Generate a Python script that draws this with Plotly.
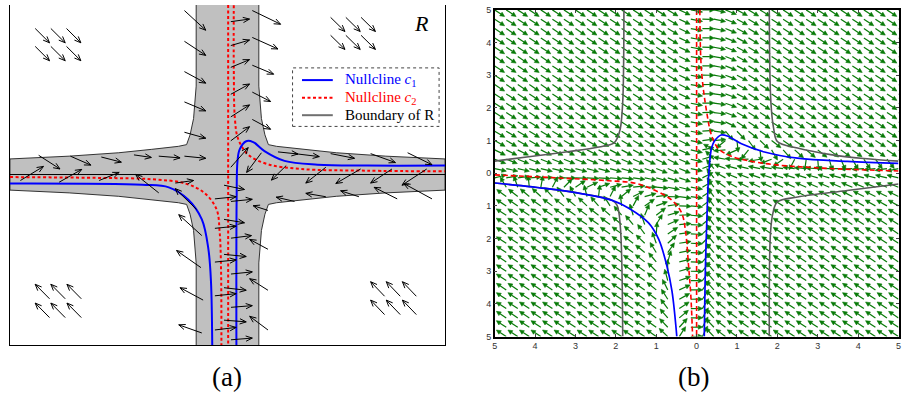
import numpy as np
import plotly.graph_objects as go

W, H = 902, 403

# ---------------------------------------------------------------------------
# Panel (a): schematic picture of the region R
# ---------------------------------------------------------------------------
# upper-left corner of the grey cross (mirrored to obtain the other corners)
r_corner_x = [-0.72, -0.72, -0.78, -0.86, -0.94, -1.13, -1.74, -2.50, -3.64, -5.00]
r_corner_y = [4.30, 2.07, 1.31, 0.93, 0.70, 0.66, 0.59, 0.51, 0.43, 0.365]

# nullcline c1 (two branches)
a_c1_left_x = [-5.0, -1.96, -1.35, -0.90, -0.59, -0.44, -0.38, -0.35]
a_c1_left_y = [-0.21, -0.24, -0.30, -0.59, -1.05, -1.74, -2.50, -4.10]
a_c1_right_x = [0.205, 0.21, 0.23, 0.28, 0.43, 0.59, 0.85, 1.31, 2.07, 3.21, 5.0]
a_c1_right_y = [-4.10, -0.59, 0.32, 0.59, 0.78, 0.76, 0.55, 0.32, 0.23, 0.21, 0.21]
# nullcline c2 (axis x = 0 plus two curved branches)
a_c2_axis_x = [0.015, 0.015]
a_c2_axis_y = [4.10, -4.10]
a_c2_upper_x = [0.145, 0.145, 0.17, 0.24, 0.47, 0.93, 1.69, 3.21, 5.0]
a_c2_upper_y = [4.10, 2.45, 1.31, 0.85, 0.47, 0.24, 0.13, 0.09, 0.075]
a_c2_lower_x = [-5.0, -2.88, -1.74, -0.97, -0.52, -0.25, -0.18, -0.15, -0.14]
a_c2_lower_y = [-0.06, -0.08, -0.11, -0.21, -0.44, -0.82, -1.35, -2.12, -4.10]

# sketched direction arrows: tail (x, y) and vector (u, v)
a_arrow_x = [
    -4.42, -4.06, -3.70, -4.42, -4.06, -3.70,          # upper-left corner
    2.37, 2.72, 3.07, 2.37, 2.72, 3.07,                # upper-right corner
    -4.09, -3.73, -3.36, -4.09, -3.73, -3.36,          # lower-left corner
    3.61, 3.97, 4.34, 3.61, 3.97, 4.34,                # lower-right corner
    -0.99, -0.99, -0.99, -0.99, -0.99,                 # upper arm, left
    0.076, 0.076, 0.076, 0.076, 0.076, 0.076, 0.076,   # upper arm, inside
    0.57, 0.57, 0.57, 0.57, 0.57,                      # upper arm, right
    -4.34, -3.61, -2.90, -2.15, -1.58, -0.99,          # left arm, top
    -4.76, -3.87, -2.95, -1.20,                        # left arm, middle
    -1.58, -0.71,                                      # left arm, bottom
    -0.59, -0.61, -0.56, -0.59,                        # lower arm, left
    -0.08, -0.29, 0.08, -0.08, -0.29, 0.08, -0.08, -0.29, 0.08,
    -0.08, -0.29, 0.08, -0.08, -0.29, 0.08,            # lower arm, inside
    0.93, 0.93, 0.93,                                  # lower arm, right
    1.16, 1.54, 2.37, 3.29, 4.14,                      # right arm, top
    0.78, 1.35, 2.26, 3.06, 3.78, 4.58,                # right arm, middle
    4.70, 3.90, 3.02, 2.26, 1.54, 0.93,                # right arm, bottom
]
a_arrow_y = [
    3.42, 3.42, 3.42, 3.00, 3.00, 3.00,
    3.68, 3.68, 3.68, 3.26, 3.26, 3.26,
    -2.91, -2.91, -2.91, -3.35, -3.35, -3.35,
    -2.85, -2.85, -2.85, -3.28, -3.28, -3.28,
    3.84, 3.12, 2.41, 1.70, 0.99,
    3.58, 3.02, 2.51, 1.88, 1.35, 0.79, 0.17,
    3.84, 3.21, 2.56, 1.93, 1.29,
    0.45, 0.43, 0.41, 0.46, 0.43, 0.43,
    -0.14, -0.18, -0.14, -0.20,
    -0.43, -0.82,
    -1.43, -2.18, -2.94, -3.71,
    -0.25, -0.57, -0.63, -1.05, -1.26, -1.49, -1.87, -2.05, -2.33,
    -2.65, -2.84, -3.11, -3.41, -3.64, -3.87,
    -1.75, -2.71, -3.64,
    0.53, 0.49, 0.49, 0.49, 0.51,
    0.51, 0.21, 0.17, 0.13, 0.13, 0.13,
    -0.57, -0.57, -0.52, -0.52, -0.63, -0.84,
]
a_arrow_u = [
    0.33, 0.33, 0.33, 0.33, 0.33, 0.33,
    0.33, 0.33, 0.33, 0.33, 0.33, 0.33,
    -0.33, -0.33, -0.33, -0.33, -0.33, -0.33,
    -0.32, -0.32, -0.32, -0.32, -0.32, -0.32,
    0.49, 0.49, 0.49, 0.49, 0.49,
    0.43, 0.43, 0.43, 0.43, 0.43, 0.43, 0.40,
    0.65, 0.59, 0.49, 0.42, 0.42,
    0.49, 0.47, 0.46, 0.40, 0.49, 0.49,
    0.53, 0.52, 0.46, 0.42,
    -0.53, -0.49,
    -0.53, -0.56, -0.53, -0.53,
    0.47, 0.49, 0.49, 0.47, 0.49, 0.47, 0.51, 0.49, 0.49,
    0.51, 0.49, 0.49, 0.51, 0.49, 0.49,
    -0.42, -0.42, -0.42,
    0.46, 0.57, 0.55, 0.57, 0.56,
    -0.34, -0.34, -0.46, -0.57, -0.49, -0.57,
    -0.65, -0.53, -0.42, -0.46, -0.42, -0.34,
]
a_arrow_v = [
    -0.335, -0.335, -0.335, -0.335, -0.335, -0.335,
    -0.33, -0.33, -0.33, -0.33, -0.33, -0.33,
    0.34, 0.34, 0.34, 0.34, 0.34, 0.34,
    0.34, 0.34, 0.34, 0.34, 0.34, 0.34,
    -0.46, -0.33, -0.27, -0.21, -0.14,
    0.06, 0.13, 0.18, 0.24, 0.28, 0.33, 0.46,
    -0.32, -0.27, -0.21, -0.22, -0.23,
    -0.32, -0.21, -0.12, -0.06, -0.04, -0.05,
    0.33, 0.30, 0.19, 0.06,
    0.43, 0.49,
    0.49, 0.40, 0.29, 0.19,
    -0.10, 0.05, 0.05, -0.08, 0.05, 0.06, -0.05, 0.05, 0.05,
    -0.06, 0.05, 0.04, -0.04, 0.06, 0.04,
    0.23, 0.27, 0.32,
    -0.05, -0.07, -0.11, -0.21, -0.28,
    -0.46, -0.34, -0.37, -0.34, -0.33, -0.38,
    0.36, 0.27, 0.14, 0.08, 0.10, 0.11,
]

# legend of panel (a)
legend_labels = [
    "<span style='color:#0000ff'>Nullcline <i>c</i><sub>1</sub></span>",
    "<span style='color:#ff0000'>Nullcline <i>c</i><sub>2</sub></span>",
    "Boundary of R",
]

# ---------------------------------------------------------------------------
# Panel (b): computed phase plane
# ---------------------------------------------------------------------------
c1_lower_x = [-5.0, -3.65, -2.83, -2.09, -1.68, -1.19, -0.94, -0.74, -0.61, -0.49]
c1_lower_y = [-0.30, -0.48, -0.63, -0.83, -1.07, -1.52, -2.02, -2.82, -3.61, -5.0]
c1_upper_x = [0.19, 0.22, 0.27, 0.30, 0.37, 0.45, 0.61, 0.78, 1.11, 1.68, 2.50, 3.73, 5.0]
c1_upper_y = [-5.0, -2.81, -0.83, -0.03, 0.77, 1.00, 1.17, 1.13, 0.90, 0.65, 0.46, 0.36, 0.30]

c2_axis_x = [0.0, 0.0]
c2_axis_y = [5.0, -5.0]
c2_upper_x = [0.08, 0.12, 0.25, 0.37, 0.53, 0.86, 1.68, 2.91, 5.0]
c2_upper_y = [5.0, 3.16, 1.87, 1.16, 0.77, 0.52, 0.30, 0.17, 0.07]
c2_lower_x = [-5.0, -3.65, -2.17, -1.50, -1.02, -0.61, -0.37, -0.27, -0.20, -0.14, -0.10]
c2_lower_y = [-0.05, -0.13, -0.23, -0.31, -0.53, -0.83, -1.22, -1.82, -2.82, -3.81, -5.0]

# boundary of R: four corner curves
bd_tl_x = [-1.80, -1.83, -1.89, -1.97, -2.05, -2.42, -3.24, -4.06, -5.0]
bd_tl_y = [5.0, 2.16, 1.36, 1.06, 0.92, 0.80, 0.65, 0.52, 0.37]
bd_tr_x = [1.80, 1.84, 1.91, 2.00, 2.50, 3.32, 4.14, 5.0]
bd_tr_y = [5.0, 2.16, 1.36, 0.97, 0.77, 0.57, 0.45, 0.37]
bd_bl_x = [-1.83, -1.89, -1.97, -2.09, -2.83, -3.65, -5.0]
bd_bl_y = [-5.0, -1.62, -0.98, -0.83, -0.63, -0.48, -0.30]
bd_br_x = [1.80, 1.83, 1.89, 2.00, 2.50, 3.73, 5.0]
bd_br_y = [-5.0, -1.82, -1.22, -0.88, -0.73, -0.53, -0.33]

tick_vals = [-5, -4, -3, -2, -1, 0, 1, 2, 3, 4, 5]
tick_text = ["5", "4", "3", "2", "1", "0", "1", "2", "3", "4", "5"]

# ---------------------------------------------------------------------------
# geometry helpers
# ---------------------------------------------------------------------------
# pixel sizes of one data unit in each panel
A_SX = 438.0 / 10.0
A_SY = 349.0 / 7.97
B_SX = 406.5 / 10.0
B_SY = 335.0 / 10.0


def arrow_paths(x0, y0, x1, y1, sx, sy, head_len, head_half, filled):
    """Shaft and head polylines for arrows, built in screen space."""
    shx, shy, hx, hy = [], [], [], []
    for a, b, c, d in zip(x0, y0, x1, y1):
        X0, Y0, X1, Y1 = a * sx, b * sy, c * sx, d * sy
        dx, dy = X1 - X0, Y1 - Y0
        n = np.hypot(dx, dy)
        if n < 1e-9:
            continue
        ux, uy = dx / n, dy / n
        hl = min(head_len, 0.6 * n)
        hw = head_half * hl / head_len
        bx, by = X1 - hl * ux, Y1 - hl * uy
        px, py = -uy * hw, ux * hw
        if filled:
            shx += [X0 / sx, bx / sx, None]
            shy += [Y0 / sy, by / sy, None]
            hx += [(bx + px) / sx, X1 / sx, (bx - px) / sx, (bx + px) / sx, None]
            hy += [(by + py) / sy, Y1 / sy, (by - py) / sy, (by + py) / sy, None]
        else:
            shx += [X0 / sx, X1 / sx, None]
            shy += [Y0 / sy, Y1 / sy, None]
            hx += [(bx + px) / sx, X1 / sx, (bx - px) / sx, None]
            hy += [(by + py) / sy, Y1 / sy, (by - py) / sy, None]
    return shx, shy, hx, hy


def polyline_distance(px, py, lx, ly):
    lx, ly = np.asarray(lx, float), np.asarray(ly, float)
    ax, ay, bx, by = lx[:-1], ly[:-1], lx[1:], ly[1:]
    dx, dy = bx - ax, by - ay
    t = ((px[:, None] - ax) * dx + (py[:, None] - ay) * dy) / (dx * dx + dy * dy)
    t = np.clip(t, 0.0, 1.0)
    cx, cy = ax + t * dx, ay + t * dy
    return np.hypot(px[:, None] - cx, py[:, None] - cy).min(axis=1)


def signed_distance(gx, gy, lx, ly, below):
    d = polyline_distance(gx * B_SX, gy * B_SY, np.asarray(lx) * B_SX, np.asarray(ly) * B_SY)
    return np.where(below, -d, d)


# ---------------------------------------------------------------------------
# direction field of panel (b): sign pattern set by the nullclines
# ---------------------------------------------------------------------------
grid = np.linspace(-5.0, 5.0, 36)
GX, GY = np.meshgrid(grid, grid)
gx, gy = GX.ravel(), GY.ravel()

below_c1l = (gx < c1_lower_x[-1]) & (gy < np.interp(gx, c1_lower_x, c1_lower_y))
below_c1u = (gx > c1_upper_x[0]) & (gy < np.interp(gx, c1_upper_x, c1_upper_y))
s1 = signed_distance(gx, gy, c1_lower_x, c1_lower_y, below_c1l)
s2 = signed_distance(gx, gy, c1_upper_x, c1_upper_y, below_c1u)

below_c2l = (gx < c2_lower_x[-1]) & (gy < np.interp(gx, c2_lower_x, c2_lower_y))
below_c2u = (gx > 0) & ((gx < c2_upper_x[0]) | (gy < np.interp(gx, c2_upper_x, c2_upper_y)))
r1 = signed_distance(gx, gy, c2_lower_x, c2_lower_y, below_c2l)
r2 = signed_distance(gx, gy, c2_upper_x, c2_upper_y, below_c2u)

f = np.tanh(np.minimum(s1, s2) / 20.0)
g = -0.82 * np.tanh(np.abs(gx) * B_SX / 20.0) * np.where(gx < 0, np.tanh(r1 / 30.0), np.tanh(r2 / 30.0))

# unit directions in screen space, fixed arrow length
L = 12.0
ux, uy = f * B_SX, g * B_SY
nrm = np.hypot(ux, uy)
nrm[nrm == 0] = 1.0
ex = gx + L * ux / nrm / B_SX
ey = gy + L * uy / nrm / B_SY

b_shx, b_shy, b_hx, b_hy = arrow_paths(gx, gy, ex, ey, B_SX, B_SY, 4.5, 2.2, True)

a_x1 = [x + u for x, u in zip(a_arrow_x, a_arrow_u)]
a_y1 = [y + v for y, v in zip(a_arrow_y, a_arrow_v)]
a_shx, a_shy, a_hx, a_hy = arrow_paths(a_arrow_x, a_arrow_y, a_x1, a_y1, A_SX, A_SY, 6.5, 2.7, False)

# polygon of the grey region
cx = np.array(r_corner_x)
cy = np.array(r_corner_y)
poly_x = list(cx) + list(cx[::-1]) + list(-cx) + list(-cx[::-1]) + [cx[0]]
poly_y = list(cy) + list(-cy[::-1]) + list(-cy) + list(cy[::-1]) + [cy[0]]

BLUE = "#0000ff"
RED = "#ff0000"
GREEN = "#087a08"
DOT = "3px,2.5px"

fig = go.Figure()

# ---- panel (a) ----
fig.add_trace(go.Scatter(x=poly_x, y=poly_y, mode="lines", fill="toself",
                         fillcolor="#c0c0c0", line=dict(color="#333333", width=1),
                         xaxis="x", yaxis="y", showlegend=False, hoverinfo="skip"))
fig.add_trace(go.Scatter(x=[-5, 5], y=[0, 0], mode="lines", line=dict(color="black", width=1),
                         xaxis="x", yaxis="y", showlegend=False, hoverinfo="skip"))
for rx_, ry_ in [(a_c2_axis_x, a_c2_axis_y), (a_c2_upper_x, a_c2_upper_y), (a_c2_lower_x, a_c2_lower_y)]:
    fig.add_trace(go.Scatter(x=rx_, y=ry_, mode="lines", line_shape="spline",
                             line=dict(color=RED, width=2, dash=DOT),
                             xaxis="x", yaxis="y", showlegend=False))
for qx_, qy_ in [(a_c1_left_x, a_c1_left_y), (a_c1_right_x, a_c1_right_y)]:
    fig.add_trace(go.Scatter(x=qx_, y=qy_, mode="lines", line_shape="spline",
                             line=dict(color=BLUE, width=2), xaxis="x", yaxis="y",
                             showlegend=False))
fig.add_trace(go.Scatter(x=a_shx + a_hx, y=a_shy + a_hy, mode="lines",
                         line=dict(color="black", width=1), xaxis="x", yaxis="y",
                         showlegend=False, hoverinfo="skip"))

# ---- panel (b) ----
fig.add_trace(go.Scatter(x=b_shx, y=b_shy, mode="lines", line=dict(color=GREEN, width=1.2),
                         xaxis="x2", yaxis="y2", showlegend=False, hoverinfo="skip"))
fig.add_trace(go.Scatter(x=b_hx, y=b_hy, mode="lines", fill="toself", fillcolor=GREEN,
                         line=dict(color=GREEN, width=0.6),
                         xaxis="x2", yaxis="y2", showlegend=False, hoverinfo="skip"))
for bx_, by_ in [(bd_tl_x, bd_tl_y), (bd_tr_x, bd_tr_y), (bd_bl_x, bd_bl_y), (bd_br_x, bd_br_y)]:
    fig.add_trace(go.Scatter(x=bx_, y=by_, mode="lines", line_shape="spline",
                             line=dict(color="#5a5a5a", width=1.6),
                             xaxis="x2", yaxis="y2", showlegend=False, hoverinfo="skip"))
for rx_, ry_ in [(c2_axis_x, c2_axis_y), (c2_upper_x, c2_upper_y), (c2_lower_x, c2_lower_y)]:
    fig.add_trace(go.Scatter(x=rx_, y=ry_, mode="lines", line_shape="spline",
                             line=dict(color=RED, width=1.6, dash="5px,3px"),
                             xaxis="x2", yaxis="y2", showlegend=False, hoverinfo="skip"))
for qx_, qy_ in [(c1_lower_x, c1_lower_y), (c1_upper_x, c1_upper_y)]:
    fig.add_trace(go.Scatter(x=qx_, y=qy_, mode="lines", line_shape="spline",
                             line=dict(color=BLUE, width=1.7),
                             xaxis="x2", yaxis="y2", showlegend=False, hoverinfo="skip"))

serif = "Liberation Serif"

# hand-built legend box for panel (a)
legend_rows = [77, 95, 113]
legend_styles = [dict(color=BLUE, width=2), dict(color=RED, width=2, dash=DOT),
                 dict(color="#707070", width=2)]
shapes = [dict(type="rect", xref="paper", yref="paper",
               x0=291.5 / W, x1=439 / W, y0=1 - 124.5 / H, y1=1 - 64.5 / H,
               line=dict(color="#444", width=1, dash="dot"))]
annotations = []
for row, style, label in zip(legend_rows, legend_styles, legend_labels):
    shapes.append(dict(type="line", xref="paper", yref="paper",
                       x0=301 / W, x1=332 / W, y0=1 - row / H, y1=1 - row / H, line=style))
    annotations.append(dict(text=label, x=342 / W, y=1 - row / H, xref="paper", yref="paper",
                            xanchor="left", yanchor="middle", showarrow=False,
                            font=dict(family=serif, size=15, color="black")))

annotations += [
    dict(text="<i>R</i>", x=421.5 / W, y=1 - 19 / H, xref="paper", yref="paper",
         xanchor="center", yanchor="middle", showarrow=False,
         font=dict(family=serif, size=22, color="black")),
    dict(text="(a)", x=225 / W, y=1 - 381 / H, xref="paper", yref="paper",
         xanchor="center", yanchor="middle", showarrow=False,
         font=dict(family=serif, size=27, color="black")),
    dict(text="(b)", x=695 / W, y=1 - 381 / H, xref="paper", yref="paper",
         xanchor="center", yanchor="middle", showarrow=False,
         font=dict(family=serif, size=27, color="black")),
]

tick_font = dict(family="Liberation Sans", size=9, color="#333")
fig.update_layout(
    width=W, height=H, margin=dict(l=0, r=0, t=0, b=0),
    paper_bgcolor="white", plot_bgcolor="white", showlegend=False,
    xaxis=dict(domain=[7 / W, 445 / W], range=[-5, 5], showgrid=False, zeroline=False,
               showticklabels=False, ticks="", showline=True, linecolor="black",
               linewidth=1, mirror=False),
    yaxis=dict(domain=[(H - 349) / H, 1.0], range=[-4.0, 3.97], showgrid=False,
               zeroline=False, showticklabels=False, ticks="", showline=True,
               linecolor="black", linewidth=1, mirror=True),
    xaxis2=dict(domain=[495 / W, 901.5 / W], range=[-5, 5], showgrid=False, zeroline=False,
                tickvals=tick_vals, ticktext=tick_text, ticks="inside", ticklen=3,
                tickcolor="#444", showline=True, linecolor="black", linewidth=1.5,
                mirror="ticks", tickfont=tick_font, ticklabeloverflow="allow", anchor="y2"),
    yaxis2=dict(domain=[(H - 340) / H, (H - 5) / H], range=[-5, 5], showgrid=False,
                zeroline=False, tickvals=tick_vals, ticktext=tick_text, ticks="inside",
                ticklen=3, tickcolor="#444", showline=True, linecolor="black",
                linewidth=1.5, mirror="ticks", tickfont=tick_font,
                ticklabeloverflow="allow", anchor="x2"),
    shapes=shapes,
    annotations=annotations,
)

fig.write_html("out.html")
